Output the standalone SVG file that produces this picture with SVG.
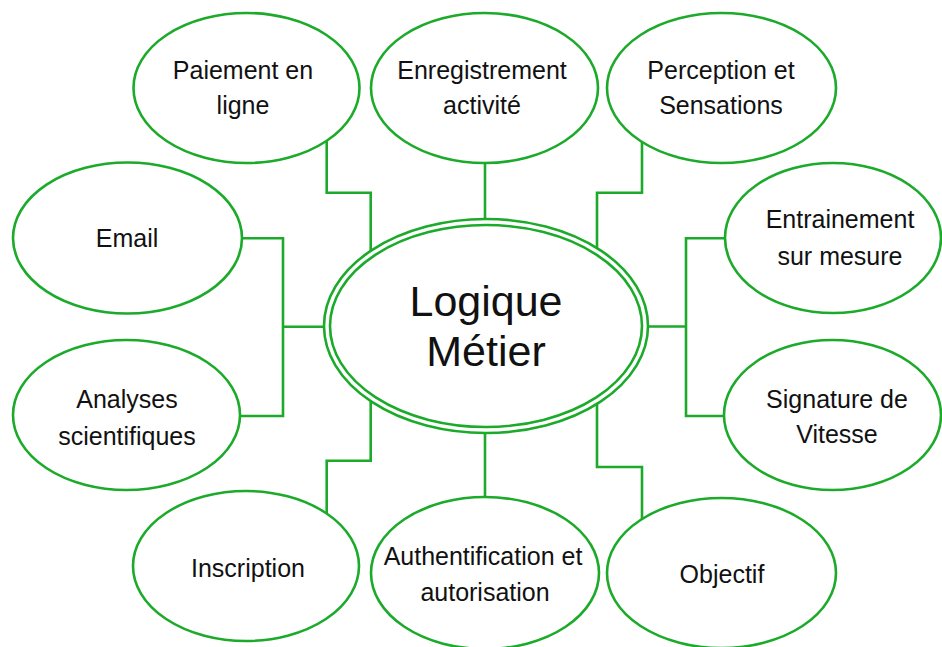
<svg xmlns="http://www.w3.org/2000/svg" width="942" height="647" viewBox="0 0 942 647">
<style>
.n{fill:#fff;stroke:#1caa2a;stroke-width:2.6}
.c{fill:none;stroke:#1caa2a;stroke-width:2.6}
.t{font-family:"Liberation Sans",Arial,sans-serif;font-size:25px;fill:#111;text-anchor:middle}
.tb{font-family:"Liberation Sans",Arial,sans-serif;font-size:43px;fill:#111;text-anchor:middle}
</style>
<rect width="942" height="647" fill="#fff"/>
<g id="connectors">
<path class="c" d="M326.7,141 V192.7 H370.7 V255"/>
<path class="c" d="M485,163 V222"/>
<path class="c" d="M642,141 V192.7 H597 V255"/>
<path class="c" d="M242,238.3 H283 V416 H240"/>
<path class="c" d="M283,326.7 H326"/>
<path class="c" d="M725,238.3 H686 V416 H724"/>
<path class="c" d="M686,326.5 H646"/>
<path class="c" d="M370.7,398 V460.7 H326.7 V515"/>
<path class="c" d="M485,430 V497"/>
<path class="c" d="M597,398 V467 H642 V520"/>
</g>
<g id="center">
<ellipse class="n" cx="486" cy="326" rx="162" ry="107"/>
<ellipse class="n" cx="486" cy="326" rx="156" ry="101"/>
<text class="tb" x="486" y="316">Logique</text>
<text class="tb" x="486" y="366">Métier</text>
</g>
<g id="paiement">
<ellipse class="n" cx="246.5" cy="88" rx="113" ry="75"/>
<text class="t" x="243" y="79">Paiement en</text>
<text class="t" x="243" y="114">ligne</text>
</g>
<g id="enregistrement">
<ellipse class="n" cx="484.5" cy="88" rx="113.5" ry="75"/>
<text class="t" x="482" y="79">Enregistrement</text>
<text class="t" x="482" y="114">activité</text>
</g>
<g id="perception">
<ellipse class="n" cx="721.5" cy="88" rx="114.5" ry="75"/>
<text class="t" x="721" y="79">Perception et</text>
<text class="t" x="721" y="114">Sensations</text>
</g>
<g id="email">
<ellipse class="n" cx="127.5" cy="238" rx="114.5" ry="75.5"/>
<text class="t" x="127" y="247">Email</text>
</g>
<g id="analyses">
<ellipse class="n" cx="126.5" cy="415" rx="113.5" ry="75"/>
<text class="t" x="127" y="408">Analyses</text>
<text class="t" x="127" y="445">scientifiques</text>
</g>
<g id="entrainement">
<ellipse class="n" cx="833" cy="238" rx="108" ry="75"/>
<text class="t" x="840" y="228">Entrainement</text>
<text class="t" x="840" y="265">sur mesure</text>
</g>
<g id="signature">
<ellipse class="n" cx="832.5" cy="415" rx="108.5" ry="75"/>
<text class="t" x="837" y="408">Signature de</text>
<text class="t" x="837" y="443">Vitesse</text>
</g>
<g id="inscription">
<ellipse class="n" cx="246" cy="566" rx="113" ry="75"/>
<text class="t" x="248" y="577">Inscription</text>
</g>
<g id="authentification">
<ellipse class="n" cx="485" cy="573" rx="114" ry="76"/>
<text class="t" x="483" y="565">Authentification et</text>
<text class="t" x="485" y="601">autorisation</text>
</g>
<g id="objectif">
<ellipse class="n" cx="721.5" cy="573" rx="114.5" ry="75"/>
<text class="t" x="722" y="583">Objectif</text>
</g>
</svg>
